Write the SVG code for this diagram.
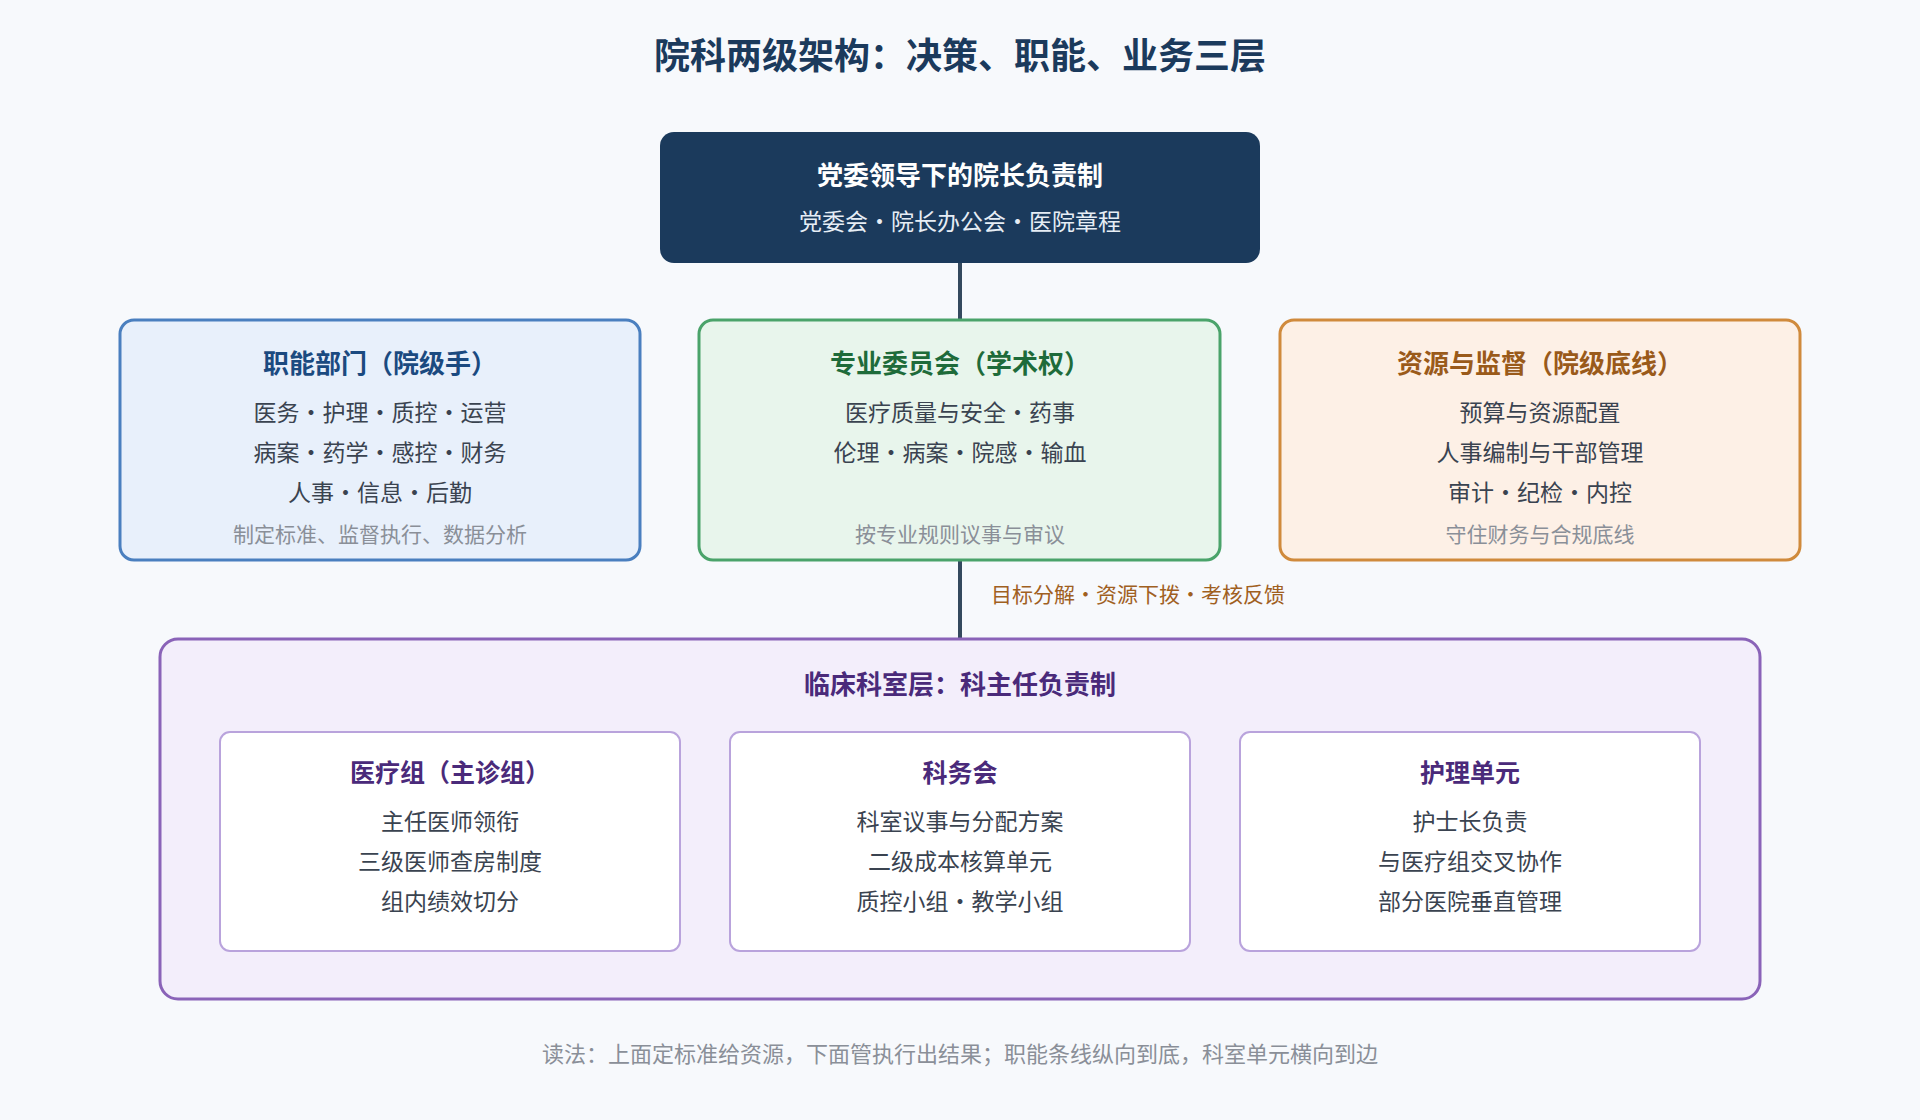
<svg xmlns="http://www.w3.org/2000/svg" width="1920" height="1120" viewBox="0 0 1920 1120">
<style>
text{font-family:"Noto Sans CJK SC","Noto Sans",sans-serif;text-anchor:middle;dominant-baseline:middle}
.t{font-size:26px;font-weight:bold}
.b{font-size:23px;fill:#3a4350}
.f{font-size:21px;fill:#8a8f98}
.in{fill:#fff;stroke:#b9a3dc;stroke-width:2}
.it{font-size:25px;font-weight:bold;fill:#4a2a7a}
</style>
<rect width="1920" height="1120" fill="#f7f9fc"/>
<text x="960" y="59" style="font-size:36px;font-weight:bold;fill:#1b3a5c">院科两级架构：决策、职能、业务三层</text>
<g id="connectors" stroke="#34495e" stroke-width="4">
<line x1="960" y1="263" x2="960" y2="320"/>
<line x1="960" y1="560" x2="960" y2="639"/>
</g>
<text x="1138" y="596" style="font-size:21px;fill:#a0601f">目标分解·资源下拨·考核反馈</text>
<g id="top">
<rect x="660" y="132" width="600" height="131" rx="14" fill="#1b3a5c"/>
<text x="960" y="178" class="t" fill="#fff">党委领导下的院长负责制</text>
<text x="960" y="224" style="font-size:23px;fill:#e6edf5">党委会·院长办公会·医院章程</text>
</g>
<g id="func">
<rect x="120" y="320" width="520" height="240" rx="14" fill="#e8f0fb" stroke="#4a7fbf" stroke-width="3"/>
<text x="380" y="366" class="t" fill="#1b4a80">职能部门（院级手）</text>
<text x="380" y="415" class="b">医务·护理·质控·运营</text>
<text x="380" y="455" class="b">病案·药学·感控·财务</text>
<text x="380" y="495" class="b">人事·信息·后勤</text>
<text x="380" y="536" class="f">制定标准、监督执行、数据分析</text>
</g>
<g id="comm">
<rect x="699" y="320" width="521" height="240" rx="14" fill="#e8f5ec" stroke="#4aa36a" stroke-width="3"/>
<text x="960" y="366" class="t" fill="#1e6b3a">专业委员会（学术权）</text>
<text x="960" y="415" class="b">医疗质量与安全·药事</text>
<text x="960" y="455" class="b">伦理·病案·院感·输血</text>
<text x="960" y="536" class="f">按专业规则议事与审议</text>
</g>
<g id="res">
<rect x="1280" y="320" width="520" height="240" rx="14" fill="#fdf0e6" stroke="#d08a3c" stroke-width="3"/>
<text x="1540" y="366" class="t" fill="#9a5a1a">资源与监督（院级底线）</text>
<text x="1540" y="415" class="b">预算与资源配置</text>
<text x="1540" y="455" class="b">人事编制与干部管理</text>
<text x="1540" y="495" class="b">审计·纪检·内控</text>
<text x="1540" y="536" class="f">守住财务与合规底线</text>
</g>
<g id="clinical">
<rect x="160" y="639" width="1600" height="360" rx="18" fill="#f3eefb" stroke="#8a63b8" stroke-width="3"/>
<text x="960" y="687" class="t" fill="#4a2a7a">临床科室层：科主任负责制</text>
</g>
<g id="med">
<rect x="220" y="732" width="460" height="219" rx="10" class="in"/>
<text x="450" y="775" class="it">医疗组（主诊组）</text>
<text x="450" y="824" class="b">主任医师领衔</text>
<text x="450" y="864" class="b">三级医师查房制度</text>
<text x="450" y="904" class="b">组内绩效切分</text>
</g>
<g id="meet">
<rect x="730" y="732" width="460" height="219" rx="10" class="in"/>
<text x="960" y="775" class="it">科务会</text>
<text x="960" y="824" class="b">科室议事与分配方案</text>
<text x="960" y="864" class="b">二级成本核算单元</text>
<text x="960" y="904" class="b">质控小组·教学小组</text>
</g>
<g id="nurse">
<rect x="1240" y="732" width="460" height="219" rx="10" class="in"/>
<text x="1470" y="775" class="it">护理单元</text>
<text x="1470" y="824" class="b">护士长负责</text>
<text x="1470" y="864" class="b">与医疗组交叉协作</text>
<text x="1470" y="904" class="b">部分医院垂直管理</text>
</g>
<text x="960" y="1056" style="font-size:22px;fill:#8a8f98">读法：上面定标准给资源，下面管执行出结果；职能条线纵向到底，科室单元横向到边</text>
</svg>
